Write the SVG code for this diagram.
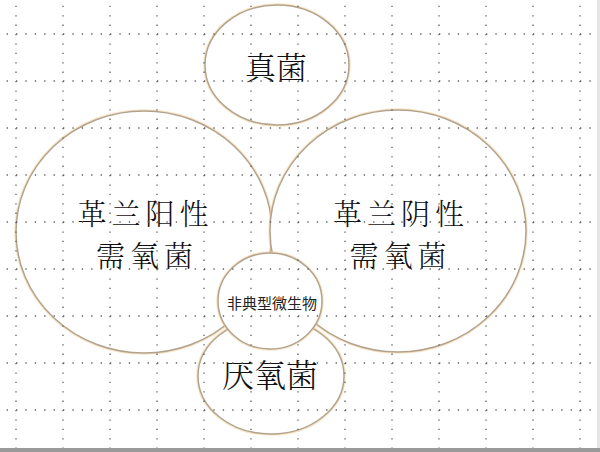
<svg xmlns="http://www.w3.org/2000/svg" width="600" height="452" viewBox="0 0 600 452">
  <style>
    .glow { fill: none; stroke: #f2cf98; stroke-width: 3.5; opacity: 0.55; }
    .ring { fill: #ffffff; stroke: #b3a38e; stroke-width: 1.5; }
    .big { font-family: "Noto Serif CJK SC", "Noto Sans CJK SC", serif; font-weight: 300; fill: #111111; text-anchor: middle; dominant-baseline: central; }
    .two { font-size: 29px; letter-spacing: 5px; }
    .small { font-family: "Noto Sans CJK SC", sans-serif; font-size: 15px; fill: #222222; text-anchor: middle; dominant-baseline: central; }
    .gv { stroke: #5e5e5e; stroke-width: 1.3; stroke-dasharray: 1.3 8.1; }
    .gh { stroke: #5e5e5e; stroke-width: 1.3; stroke-dasharray: 1.3 8.1; }
  </style>
  <rect x="0" y="0" width="600" height="452" fill="#ffffff"/>

  <g id="node-zhenjun">
    <ellipse class="glow" cx="277" cy="65" rx="72" ry="60"/>
    <ellipse class="ring" cx="277" cy="65" rx="72" ry="60"/>
    <text class="big" x="276" y="65" font-size="31">真菌</text>
  </g>

  <g id="node-gram-positive">
    <ellipse class="glow" cx="144" cy="232" rx="128" ry="121"/>
    <ellipse class="ring" cx="144" cy="232" rx="128" ry="121"/>
    <text class="big two" x="145.5" y="212">革兰阳性</text>
    <text class="big two" x="147" y="254">需氧菌</text>
  </g>

  <g id="node-gram-negative">
    <ellipse class="glow" cx="398" cy="231" rx="128" ry="121"/>
    <ellipse class="ring" cx="398" cy="231" rx="128" ry="121"/>
    <text class="big two" x="401" y="212">革兰阴性</text>
    <text class="big two" x="400.5" y="254">需氧菌</text>
  </g>

  <g id="node-anaerobe">
    <ellipse class="glow" cx="271" cy="376" rx="73" ry="58"/>
    <ellipse class="ring" cx="271" cy="376" rx="73" ry="58"/>
    <text class="big" x="270" y="373" font-size="32">厌氧菌</text>
  </g>

  <g id="node-atypical">
    <ellipse class="glow" cx="270" cy="301" rx="52" ry="48"/>
    <ellipse class="ring" cx="270" cy="301" rx="52" ry="48"/>
    <text class="small" x="272" y="302">非典型微生物</text>
  </g>

  <g id="connectors"></g>

  <g id="grid">
    <line class="gv" x1="16" y1="-3.6" x2="16" y2="448"/>
    <line class="gv" x1="63" y1="-3.6" x2="63" y2="448"/>
    <line class="gv" x1="110" y1="-3.6" x2="110" y2="448"/>
    <line class="gv" x1="157" y1="-3.6" x2="157" y2="448"/>
    <line class="gv" x1="204" y1="-3.6" x2="204" y2="448"/>
    <line class="gv" x1="251" y1="-3.6" x2="251" y2="448"/>
    <line class="gv" x1="298" y1="-3.6" x2="298" y2="448"/>
    <line class="gv" x1="345" y1="-3.6" x2="345" y2="448"/>
    <line class="gv" x1="392" y1="-3.6" x2="392" y2="448"/>
    <line class="gv" x1="439" y1="-3.6" x2="439" y2="448"/>
    <line class="gv" x1="486" y1="-3.6" x2="486" y2="448"/>
    <line class="gv" x1="533" y1="-3.6" x2="533" y2="448"/>
    <line class="gv" x1="580" y1="-3.6" x2="580" y2="448"/>
    <line class="gh" x1="-2.8" y1="34" x2="597" y2="34"/>
    <line class="gh" x1="-2.8" y1="81" x2="597" y2="81"/>
    <line class="gh" x1="-2.8" y1="128" x2="597" y2="128"/>
    <line class="gh" x1="-2.8" y1="175" x2="597" y2="175"/>
    <line class="gh" x1="-2.8" y1="222" x2="597" y2="222"/>
    <line class="gh" x1="-2.8" y1="269" x2="597" y2="269"/>
    <line class="gh" x1="-2.8" y1="316" x2="597" y2="316"/>
    <line class="gh" x1="-2.8" y1="363" x2="597" y2="363"/>
    <line class="gh" x1="-2.8" y1="410" x2="597" y2="410"/>
  </g>

  <rect x="597" y="0" width="3" height="452" fill="#e6e6e6"/>
  <rect x="0" y="448" width="600" height="4" fill="#9a9a9a"/>
</svg>
